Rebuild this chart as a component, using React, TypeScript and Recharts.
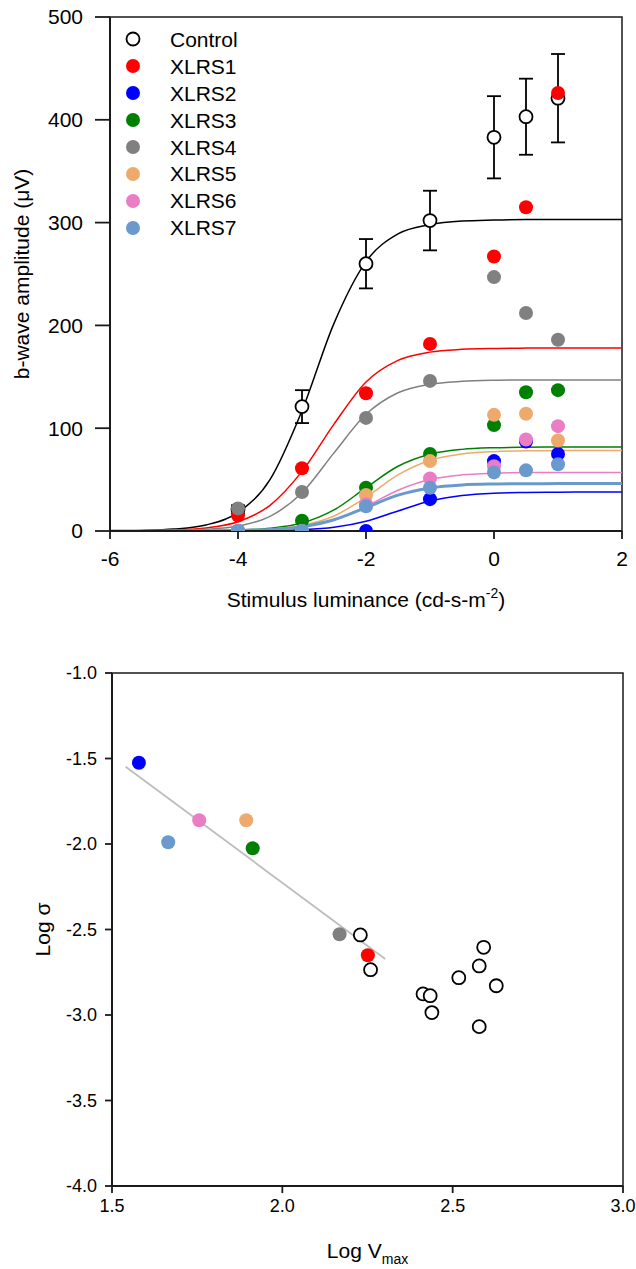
import React from 'react';
import {
  ComposedChart,
  Line,
  Scatter,
  XAxis,
  YAxis,
  ErrorBar,
  ReferenceArea,
} from 'recharts';

// ---------- Top panel data ----------
const LUM_X = [-4, -3, -2, -1, 0, 0.5, 1];
const CONTROL_AMP = [21, 121, 260, 302, 383, 403, 421];
const CONTROL_ERR = [4, 16, 24, 29, 40, 37, 43];
const XLRS1_AMP = [15, 61, 134, 182, 267, 315, 426];
const XLRS2_AMP = [0, 0, 0, 31, 68, 87, 75];
const XLRS3_AMP = [0, 10, 42, 75, 103, 135, 137];
const XLRS4_AMP = [22, 38, 110, 146, 247, 212, 186];
const XLRS5_AMP = [0, 0, 35, 68, 113, 114, 88];
const XLRS6_AMP = [0, 0, 26, 51, 63, 89, 102];
const XLRS7_AMP = [0, 0, 24, 42, 57, 59, 65];

const CURVE_X = [-6, -5.5, -5, -4.5, -4, -3.5, -3, -2.5, -2, -1.5, -1, -0.5, 0, 0.5, 1, 1.5, 2];
const CURVE_CONTROL = [0.2, 0.6, 1.9, 5.9, 18, 50, 117, 202, 262, 289, 298, 301.5, 302.5, 303, 303, 303, 303];
const CURVE_XLRS1 = [0.1, 0.3, 1, 3, 9, 25, 58, 104, 145, 166, 174, 176.7, 177.6, 177.9, 178, 178, 178];
const CURVE_XLRS2 = [0, 0, 0, 0, 0.1, 0.4, 1.2, 3.6, 9.5, 19.5, 29.2, 34.6, 36.8, 37.5, 37.8, 37.9, 37.9];
const CURVE_XLRS3 = [0, 0, 0.1, 0.3, 0.9, 2.7, 7.8, 20.5, 42.1, 63, 74.7, 79.4, 81, 81.5, 81.7, 81.8, 81.8];
const CURVE_XLRS4 = [0, 0.2, 0.5, 1.6, 4.8, 14.2, 37.2, 76, 113.5, 134.5, 142.8, 145.6, 146.6, 146.9, 147, 147, 147];
const CURVE_XLRS5 = [0, 0, 0.1, 0.2, 0.6, 1.8, 5.3, 14.6, 32.9, 54.5, 68.8, 75, 77.2, 78, 78.2, 78.3, 78.3];
const CURVE_XLRS6 = [0, 0, 0, 0.1, 0.4, 1.3, 3.9, 10.6, 23.9, 39.7, 50.1, 54.6, 56.2, 56.8, 56.9, 57, 57];
const CURVE_XLRS7 = [0, 0, 0, 0.1, 0.5, 1.4, 4.1, 10.9, 22.8, 34.9, 41.9, 44.8, 45.7, 46, 46.1, 46.2, 46.2];

const TOP_X_TICKS = [-6, -4, -2, 0, 2];
const TOP_Y_TICKS = [0, 100, 200, 300, 400, 500];

const PATIENT_NAMES = ['XLRS1', 'XLRS2', 'XLRS3', 'XLRS4', 'XLRS5', 'XLRS6', 'XLRS7'];
const PATIENT_AMPS = [XLRS1_AMP, XLRS2_AMP, XLRS3_AMP, XLRS4_AMP, XLRS5_AMP, XLRS6_AMP, XLRS7_AMP];
const PATIENT_CURVES = [CURVE_XLRS1, CURVE_XLRS2, CURVE_XLRS3, CURVE_XLRS4, CURVE_XLRS5, CURVE_XLRS6, CURVE_XLRS7];

// ---------- Bottom panel data ----------
const PATIENT_LOGVMAX = [2.251, 1.579, 1.913, 2.168, 1.894, 1.756, 1.665];
const PATIENT_LOGSIGMA = [-2.651, -1.525, -2.025, -2.528, -1.861, -1.861, -1.99];
const CONTROL_LOGVMAX = [2.229, 2.259, 2.413, 2.434, 2.439, 2.518, 2.578, 2.591, 2.628, 2.578];
const CONTROL_LOGSIGMA = [-2.532, -2.735, -2.877, -2.887, -2.986, -2.782, -2.713, -2.604, -2.829, -3.068];
const REGRESSION_X = [1.54, 2.302];
const REGRESSION_Y = [-1.548, -2.672];
const BOTTOM_X_TICKS = [1.5, 2.0, 2.5, 3.0];
const BOTTOM_Y_TICKS = [-4.0, -3.5, -3.0, -2.5, -2.0, -1.5, -1.0];

// ---------- Styles ----------
const PATIENT_COLORS = ['#ff0000', '#0000ff', '#008000', '#808080', '#eeaa6c', '#ea7dc5', '#6a9acd'];
const PATIENT_LINE_WIDTHS = [1.5, 1.5, 1.5, 1.5, 1.5, 1.5, 3];
const FONT = '"Liberation Sans", Arial, sans-serif';
const AXIS_COLOR = '#1a1a1a';

const pts = (xs: number[], ys: number[]) => xs.map((x, i) => ({ x, y: ys[i] }));

const controlData = LUM_X.map((x, i) => ({ x, y: CONTROL_AMP[i], err: CONTROL_ERR[i] }));

const dot = (color: string, r: number) => (p: any) =>
  p.cx == null ? <g /> : <circle cx={p.cx} cy={p.cy} r={r} fill={color} stroke="none" />;
const openDot = (r: number) => (p: any) =>
  p.cx == null ? <g /> : <circle cx={p.cx} cy={p.cy} r={r} fill="#fff" stroke="#000" strokeWidth={1.8} />;

const TopYLabel = (props: any) => {
  const vb = props.viewBox || {};
  const cy = vb.y + vb.height / 2;
  return (
    <text
      x={21}
      y={cy}
      transform={`rotate(-90 21 ${cy})`}
      textAnchor="middle"
      dominantBaseline="central"
      fontFamily={FONT}
      fontSize={21}
      fill="#000"
    >
      b-wave amplitude (μV)
    </text>
  );
};

const TopXLabel = (props: any) => {
  const vb = props.viewBox || {};
  const cx = vb.x + vb.width / 2;
  return (
    <text x={cx} y={vb.y + 76} textAnchor="middle" fontFamily={FONT} fontSize={21} fill="#000">
      <tspan>Stimulus luminance (cd-s-m</tspan>
      <tspan dy={-9} fontSize={14}>-2</tspan>
      <tspan dy={9}>)</tspan>
    </text>
  );
};

const BottomYLabel = (props: any) => {
  const vb = props.viewBox || {};
  const cy = vb.y + vb.height / 2;
  return (
    <text
      x={42}
      y={cy}
      transform={`rotate(-90 42 ${cy})`}
      textAnchor="middle"
      dominantBaseline="central"
      fontFamily={FONT}
      fontSize={21}
      fill="#000"
    >
      Log σ
    </text>
  );
};

const BottomXLabel = (props: any) => {
  const vb = props.viewBox || {};
  const cx = vb.x + vb.width / 2;
  return (
    <text x={cx} y={vb.y + 72} textAnchor="middle" fontFamily={FONT} fontSize={21} fill="#000">
      <tspan>Log V</tspan>
      <tspan dy={6} fontSize={14}>max</tspan>
    </text>
  );
};

const LEGEND_NAMES = ['Control', ...PATIENT_NAMES];

const TopLegend = () => (
  <div style={{ position: 'absolute', left: 124, top: 26, fontFamily: FONT, fontSize: 21, color: '#000' }}>
    {LEGEND_NAMES.map((n, i) => (
      <div key={n} style={{ height: 26.9, display: 'flex', alignItems: 'center' }}>
        <svg width={18} height={18} style={{ display: 'block' }}>
          {i === 0 ? (
            <circle cx={9} cy={9} r={6.5} fill="#fff" stroke="#000" strokeWidth={1.8} />
          ) : (
            <circle cx={9} cy={9} r={7} fill={PATIENT_COLORS[i - 1]} />
          )}
        </svg>
        <span style={{ marginLeft: 28, lineHeight: '21px' }}>{n}</span>
      </div>
    ))}
  </div>
);

export default function App() {
  return (
    <div style={{ position: 'absolute', left: 0, top: 0, width: 636, height: 1269, background: '#fff' }}>
      <div style={{ position: 'absolute', left: 0, top: 0 }}>
        <ComposedChart width={636} height={620} margin={{ top: 17, right: 14, bottom: 29, left: 0 }}>
          <XAxis
            type="number"
            dataKey="x"
            domain={[-6, 2]}
            ticks={TOP_X_TICKS}
            allowDataOverflow
            height={60}
            tickSize={8}
            tickMargin={12}
            axisLine={{ stroke: AXIS_COLOR, strokeWidth: 2 }}
            tickLine={{ stroke: AXIS_COLOR, strokeWidth: 1.8 }}
            tick={{ fill: '#000', fontSize: 21, fontFamily: FONT }}
            label={{ content: TopXLabel }}
          />
          <YAxis
            type="number"
            dataKey="y"
            domain={[0, 500]}
            ticks={TOP_Y_TICKS}
            allowDataOverflow
            width={110}
            tickSize={15}
            tickMargin={12}
            axisLine={{ stroke: AXIS_COLOR, strokeWidth: 2 }}
            tickLine={{ stroke: AXIS_COLOR, strokeWidth: 1.8 }}
            tick={{ fill: '#000', fontSize: 21, fontFamily: FONT }}
            label={{ content: TopYLabel }}
          />
          <ReferenceArea
            x1={-6}
            x2={2}
            y1={0}
            y2={500}
            fill="none"
            fillOpacity={0}
            stroke={AXIS_COLOR}
            strokeWidth={1.5}
            ifOverflow="visible"
          />
          <Scatter data={controlData} name="Control" shape={openDot(6.5)} isAnimationActive={false}>
            <ErrorBar dataKey="err" direction="y" width={7} stroke="#000" strokeWidth={1.8} isAnimationActive={false} />
          </Scatter>
          <Line
            data={pts(CURVE_X, CURVE_CONTROL)}
            dataKey="y"
            type="monotone"
            stroke="#000"
            strokeWidth={1.5}
            dot={false}
            activeDot={false}
            isAnimationActive={false}
          />
          {PATIENT_NAMES.map((n, i) => (
            <Line
              key={'l' + n}
              data={pts(CURVE_X, PATIENT_CURVES[i])}
              dataKey="y"
              type="monotone"
              stroke={PATIENT_COLORS[i]}
              strokeWidth={PATIENT_LINE_WIDTHS[i]}
              dot={false}
              activeDot={false}
              isAnimationActive={false}
            />
          ))}
          {PATIENT_NAMES.map((n, i) => (
            <Scatter
              key={'s' + n}
              name={n}
              data={pts(LUM_X, PATIENT_AMPS[i])}
              shape={dot(PATIENT_COLORS[i], 7)}
              isAnimationActive={false}
            />
          ))}
        </ComposedChart>
      </div>
      <TopLegend />
      <div style={{ position: 'absolute', left: 0, top: 620 }}>
        <ComposedChart width={636} height={649} margin={{ top: 53, right: 13, bottom: 23, left: 0 }}>
          <XAxis
            type="number"
            dataKey="x"
            domain={[1.5, 3.0]}
            ticks={BOTTOM_X_TICKS}
            allowDataOverflow
            height={60}
            tickSize={7}
            tickMargin={6}
            tickFormatter={(v: number) => v.toFixed(1)}
            axisLine={{ stroke: AXIS_COLOR, strokeWidth: 2 }}
            tickLine={{ stroke: AXIS_COLOR, strokeWidth: 1.8 }}
            tick={{ fill: '#000', fontSize: 18, fontFamily: FONT }}
            label={{ content: BottomXLabel }}
          />
          <YAxis
            type="number"
            dataKey="y"
            domain={[-4, -1]}
            ticks={BOTTOM_Y_TICKS}
            allowDataOverflow
            width={112}
            tickSize={7}
            tickMargin={8}
            tickFormatter={(v: number) => v.toFixed(1)}
            axisLine={{ stroke: AXIS_COLOR, strokeWidth: 2 }}
            tickLine={{ stroke: AXIS_COLOR, strokeWidth: 1.8 }}
            tick={{ fill: '#000', fontSize: 18, fontFamily: FONT }}
            label={{ content: BottomYLabel }}
          />
          <ReferenceArea
            x1={1.5}
            x2={3.0}
            y1={-4}
            y2={-1}
            fill="none"
            fillOpacity={0}
            stroke={AXIS_COLOR}
            strokeWidth={1.5}
            ifOverflow="visible"
          />
          <Line
            data={pts(REGRESSION_X, REGRESSION_Y)}
            dataKey="y"
            type="linear"
            stroke="#bdbdbd"
            strokeWidth={1.8}
            dot={false}
            activeDot={false}
            isAnimationActive={false}
          />
          <Scatter
            name="Control"
            data={pts(CONTROL_LOGVMAX, CONTROL_LOGSIGMA)}
            shape={openDot(6.5)}
            isAnimationActive={false}
          />
          {PATIENT_NAMES.map((n, i) => (
            <Scatter
              key={'b' + n}
              name={n}
              data={[{ x: PATIENT_LOGVMAX[i], y: PATIENT_LOGSIGMA[i] }]}
              shape={dot(PATIENT_COLORS[i], 7)}
              isAnimationActive={false}
            />
          ))}
        </ComposedChart>
      </div>
    </div>
  );
}
